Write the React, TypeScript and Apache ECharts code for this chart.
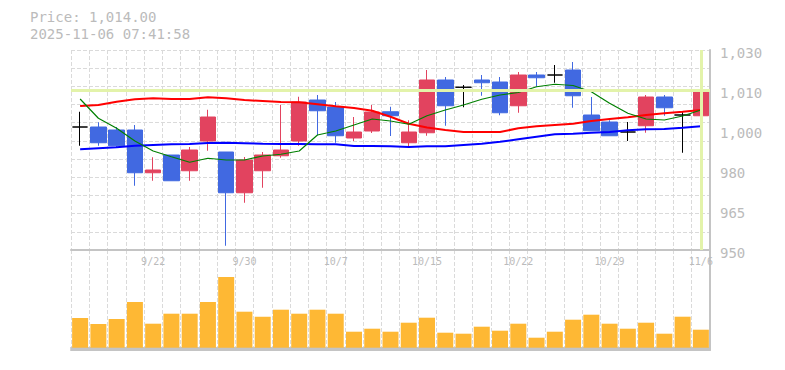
import React, { useEffect, useRef } from 'react';
import * as echarts from 'echarts';

const dates = ['9/16','9/17','9/18','9/19','9/22','9/24','9/25','9/26','9/29','9/30','10/1','10/2','10/3','10/6','10/7','10/8','10/9','10/10','10/14','10/15','10/16','10/17','10/20','10/21','10/22','10/23','10/24','10/27','10/28','10/29','10/30','10/31','11/4','11/5','11/6'];

const opens = [999.2, 999.2, 998.0, 998.0, 980.9, 988.0, 981.7, 993.6, 989.2, 972.9, 981.7, 987.7, 993.6, 1010.0, 1007.2, 994.8, 997.6, 1005.3, 992.9, 996.9, 1018.0, 1015.1, 1018.0, 1017.2, 1007.7, 1020.0, 1020.0, 1022.0, 1004.0, 1001.2, 997.2, 999.7, 1011.2, 1004.0, 1003.7];
const closes = [999.2, 992.9, 991.7, 980.9, 982.0, 977.7, 990.0, 1003.2, 972.9, 986.0, 988.0, 990.0, 1009.2, 1005.7, 995.7, 997.2, 1005.2, 1003.7, 997.2, 1018.0, 1007.7, 1015.1, 1016.9, 1004.9, 1020.0, 1018.9, 1020.0, 1011.7, 997.7, 995.7, 997.2, 1011.2, 1006.9, 1004.0, 1014.0];
const lows = [991.7, 991.7, 990.9, 975.7, 977.7, 977.7, 977.7, 989.7, 951.7, 968.9, 974.9, 986.9, 991.7, 995.9, 992.9, 993.6, 996.8, 995.6, 990.9, 995.7, 999.7, 1007.1, 1011.7, 1003.9, 1004.9, 1015.3, 1016.9, 1006.9, 997.7, 995.7, 993.6, 996.9, 1003.7, 988.9, 999.7];
const highs = [1005.3, 1001.1, 999.2, 1000.0, 987.1, 988.0, 991.2, 1006.1, 989.2, 987.2, 989.2, 1008.1, 1011.3, 1012.0, 1009.2, 1003.2, 1008.0, 1007.3, 1001.9, 1022.0, 1019.2, 1016.0, 1020.0, 1019.2, 1021.2, 1021.2, 1024.0, 1025.2, 1011.2, 1001.9, 1001.2, 1012.0, 1012.0, 1005.2, 1014.0];

const ma5 = [1010.4, 1002.7, 998.7, 993.6, 989.6, 987.3, 985.1, 986.7, 986.0, 986.0, 987.6, 988.3, 989.6, 996.0, 997.6, 1000.0, 1002.4, 1001.6, 1000.3, 1003.7, 1006.0, 1008.0, 1010.3, 1012.0, 1013.0, 1015.3, 1016.3, 1015.8, 1013.3, 1008.7, 1004.7, 1002.4, 1002.0, 1003.6, 1006.0];
const ma25 = [1007.6, 1008.0, 1009.3, 1010.3, 1010.7, 1010.4, 1010.4, 1011.1, 1010.7, 1010.0, 1009.6, 1009.2, 1009.1, 1008.3, 1007.5, 1006.8, 1005.7, 1003.3, 1000.5, 999.0, 998.0, 997.2, 997.2, 997.2, 998.7, 999.5, 1000.0, 1000.5, 1001.6, 1002.4, 1003.1, 1004.0, 1004.7, 1005.3, 1006.0];
const ma75 = [990.3, 990.7, 991.1, 991.7, 992.0, 992.3, 992.4, 992.8, 992.9, 992.7, 992.5, 992.4, 992.4, 992.3, 992.3, 991.6, 991.6, 991.5, 991.2, 991.5, 991.5, 992.0, 992.5, 993.3, 994.3, 995.3, 996.3, 996.5, 996.9, 997.2, 997.9, 998.3, 998.4, 998.9, 999.5];

const volumes = [29.7, 23.7, 28.7, 45.7, 24, 34, 34, 45.7, 70.7, 36, 31, 38, 34, 38, 34, 16, 19, 16, 25, 30, 15, 14, 21, 17, 24, 10, 16, 28, 33, 24, 19, 25, 14, 31, 18];

const priceTicks = [950, 966, 982, 998, 1014, 1030];
const priceTickLabels = ['950', '965', '980', '1,000', '1,010', '1,030'];

const currentPrice = 1014;
const titleLine1 = 'Price: 1,014.00';
const titleLine2 = '2025-11-06 07:41:58';

const MONO = "'DejaVu Sans Mono', monospace";
const TXT = '#bbbbbb';
const GRID_C = '#dadada';
const AXIS_C = '#c4c4c4';

export default function App() {
  const ref = useRef<HTMLDivElement>(null);
  useEffect(() => {
    if (!ref.current) return;
    const chart = echarts.init(ref.current, null, { renderer: 'svg' });
    const candleData = dates.map((_, i) => [opens[i], closes[i], lows[i], highs[i]]);
    const dashed = { color: GRID_C, width: 1, type: [4, 2] as any };
    chart.setOption({
      animation: false,
      backgroundColor: '#fff',
      graphic: [
        { type: 'text', left: 30, top: 9, style: { text: titleLine1, font: `14px ${MONO}`, lineHeight: 16, fill: TXT } },
        { type: 'text', left: 30, top: 25.5, style: { text: titleLine2, font: `14px ${MONO}`, lineHeight: 16, fill: TXT } },
      ],
      grid: [
        { left: 71, right: 75, top: 50, height: 200 },
        { left: 71, right: 75, top: 250, height: 100 },
      ],
      xAxis: [
        {
          type: 'category', gridIndex: 0, data: dates, boundaryGap: true,
          axisLine: { show: true, lineStyle: { color: AXIS_C, width: 2 } },
          axisTick: { show: false }, axisLabel: { show: false },
          splitLine: { show: true, interval: 0, lineStyle: dashed },
        },
        {
          type: 'category', gridIndex: 1, data: dates, boundaryGap: true, position: 'top',
          axisLine: { show: true, lineStyle: { color: AXIS_C, width: 2 } },
          axisTick: { show: false },
          axisLabel: {
            show: true, inside: true, margin: 6, fontSize: 10, fontFamily: MONO, color: TXT,
            interval: (idx: number) => idx % 5 === 4,
          },
          splitLine: { show: true, interval: 0, lineStyle: dashed },
        },
        {
          type: 'category', gridIndex: 1, data: dates, boundaryGap: true, position: 'bottom',
          axisLine: { show: true, lineStyle: { color: AXIS_C, width: 2 } },
          axisTick: { show: false }, axisLabel: { show: false }, splitLine: { show: false },
        },
      ],
      yAxis: [
        {
          type: 'value', gridIndex: 0, position: 'right', min: 950, max: 1030,
          axisLine: { show: true, lineStyle: { color: AXIS_C, width: 2 } },
          axisTick: { show: false },
          axisLabel: {
            show: true, customValues: priceTicks, margin: 10,
            formatter: (v: number) => {
              const i = priceTicks.indexOf(v);
              return i >= 0 ? `{p|${priceTickLabels[i]}}` : '';
            },
            rich: {
              p: { fontSize: 14, fontFamily: MONO, color: TXT, padding: [6, 0, 0, 0] },
            },
          },
          splitLine: { show: false },
        },
        {
          type: 'value', gridIndex: 0, position: 'left', min: 0, max: 11, interval: 1,
          axisLine: { show: false }, axisTick: { show: false }, axisLabel: { show: false },
          splitLine: { show: true, lineStyle: dashed },
        },
        {
          type: 'value', gridIndex: 1, position: 'right', min: -2.3, max: 97.7,
          axisLine: { show: true, lineStyle: { color: AXIS_C, width: 2 } },
          axisTick: { show: false }, axisLabel: { show: false }, splitLine: { show: false },
        },
      ],
      series: [
        {
          type: 'line', xAxisIndex: 0, yAxisIndex: 0, data: [], z: 1, silent: true,
          markLine: {
            silent: true, symbol: ['none', 'none'], label: { show: false },
            lineStyle: { color: '#e3f3aa', width: 3, type: 'solid' },
            data: [{ yAxis: currentPrice }, { xAxis: dates.length - 1 }],
          },
        },
        {
          type: 'candlestick', xAxisIndex: 0, yAxisIndex: 0, data: candleData, barWidth: 16, z: 3,
          itemStyle: {
            color: '#e2435f', color0: '#4169e1', borderColor: '#e2435f', borderColor0: '#4169e1',
            borderColorDoji: '#000000', borderWidth: 1,
          },
        },
        { type: 'line', xAxisIndex: 0, yAxisIndex: 0, data: ma25, symbol: 'none', z: 4, lineStyle: { color: '#ff0000', width: 2 } },
        { type: 'line', xAxisIndex: 0, yAxisIndex: 0, data: ma75, symbol: 'none', z: 4, lineStyle: { color: '#0000ff', width: 2 } },
        { type: 'line', xAxisIndex: 0, yAxisIndex: 0, data: ma5, symbol: 'none', z: 4, lineStyle: { color: '#008000', width: 1.2 } },
        {
          type: 'bar', xAxisIndex: 1, yAxisIndex: 2, data: volumes, barWidth: 16,
          itemStyle: { color: '#feb834' },
        },
      ],
    });
    return () => chart.dispose();
  }, []);
  return <div ref={ref} style={{ position: 'fixed', left: 0, top: 0, width: 785, height: 370 }} />;
}
